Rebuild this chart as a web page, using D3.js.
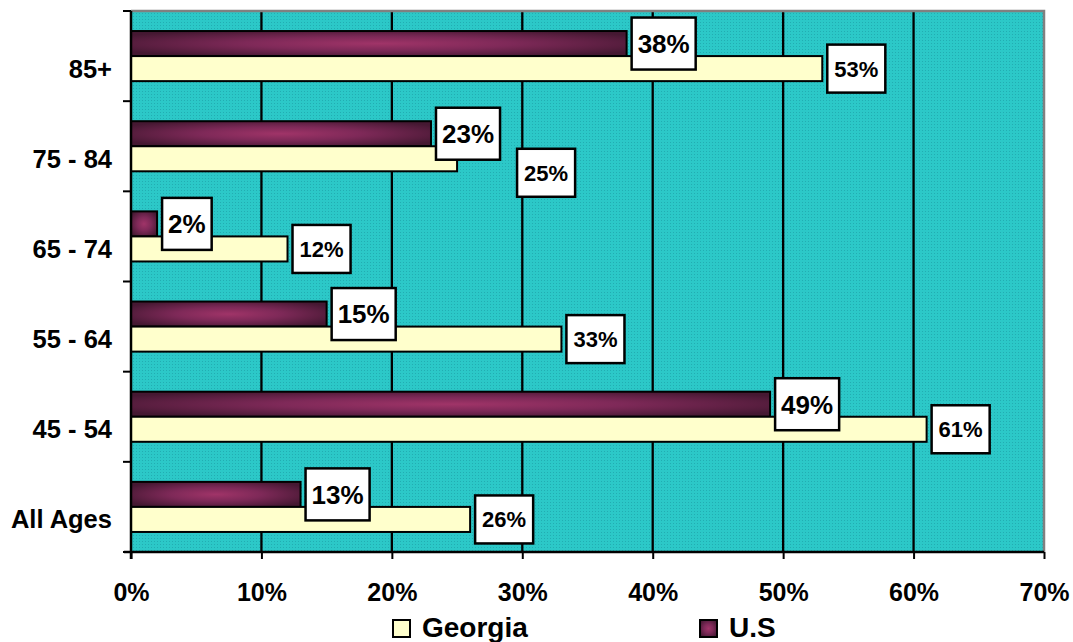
<!DOCTYPE html>
<html>
<head>
<meta charset="utf-8">
<script src="https://cdn.jsdelivr.net/npm/d3@7"></script>
<style>
  html, body { margin: 0; padding: 0; background: #fff; }
  svg { display: block; }
  text { font-family: "Liberation Sans", Arial, sans-serif; font-weight: bold; fill: #000; }
</style>
</head>
<body>
<svg id="chart" width="1073" height="642"></svg>
<script>
// Age groups, top to bottom
const categories = ["85+", "75 - 84", "65 - 74", "55 - 64", "45 - 54", "All Ages"];
// Share of each age group (percent)
const usValues      = [38, 23, 2, 15, 49, 13];
const georgiaValues = [53, 25, 12, 33, 61, 26];
const seriesNames = ["U.S", "Georgia"];
const xTicks = [0, 10, 20, 30, 40, 50, 60, 70];

const svg = d3.select("#chart");
const plot = { left: 131, right: 1044, top: 11, bottom: 552 };

const defs = svg.append("defs");
// dotted teal backdrop
const pat = defs.append("pattern").attr("id", "dots")
  .attr("width", 3).attr("height", 3).attr("patternUnits", "userSpaceOnUse");
pat.append("rect").attr("width", 3).attr("height", 3).attr("fill", "#2cc8c8");
pat.append("rect").attr("x", 1).attr("y", 1).attr("width", 1).attr("height", 1).attr("fill", "#22adb2");

// shaded plum fill for the U.S bars
const grad = defs.append("radialGradient").attr("id", "usFill")
  .attr("cx", 0.5).attr("cy", 0.5).attr("r", 0.6);
grad.append("stop").attr("offset", "0%").attr("stop-color", "#a03468");
grad.append("stop").attr("offset", "45%").attr("stop-color", "#7e2958");
grad.append("stop").attr("offset", "100%").attr("stop-color", "#451832");

const x = d3.scaleLinear().domain([0, 70]).range([plot.left, plot.right]);
const y = d3.scaleBand().domain(categories).range([plot.top, plot.bottom]);
const y1 = d3.scaleBand().domain(seriesNames).range([0, y.bandwidth()])
  .paddingInner(0).paddingOuter(0.8);

// plot background
svg.append("rect")
  .attr("x", plot.left).attr("y", plot.top)
  .attr("width", plot.right - plot.left).attr("height", plot.bottom - plot.top)
  .attr("fill", "url(#dots)");

// vertical gridlines
svg.append("g").selectAll("line")
  .data(xTicks.filter(t => t > 0 && t < 70))
  .join("line")
  .attr("x1", d => x(d)).attr("x2", d => x(d))
  .attr("y1", plot.top).attr("y2", plot.bottom)
  .attr("stroke", "#000").attr("stroke-width", 2.3);

// gray frame on top and right
svg.append("path")
  .attr("d", `M${plot.left},${plot.top} H${plot.right} V${plot.bottom}`)
  .attr("fill", "none").attr("stroke", "#808080").attr("stroke-width", 2.5);

const rows = categories.map((c, i) => ({ cat: c, us: usValues[i], ga: georgiaValues[i] }));

// bars
const bars = svg.append("g");
bars.selectAll("rect.us").data(rows).join("rect").attr("class", "us")
  .attr("x", x(0)).attr("y", d => y(d.cat) + y1("U.S"))
  .attr("width", d => x(d.us) - x(0)).attr("height", y1.bandwidth())
  .attr("fill", "url(#usFill)").attr("stroke", "#000").attr("stroke-width", 2);
bars.selectAll("rect.ga").data(rows).join("rect").attr("class", "ga")
  .attr("x", x(0)).attr("y", d => y(d.cat) + y1("Georgia"))
  .attr("width", d => x(d.ga) - x(0)).attr("height", y1.bandwidth())
  .attr("fill", "#ffffcc").attr("stroke", "#000").attr("stroke-width", 2);

// axes
const xAxis = d3.axisBottom(x).tickValues(xTicks).tickSize(7).tickFormat(d => d + "%");
const gx = svg.append("g").attr("transform", `translate(0,${plot.bottom})`).call(xAxis);
gx.select(".domain").attr("stroke", "#000").attr("stroke-width", 2.5)
  .attr("d", `M${plot.left - 7},0H${plot.right}`);
gx.selectAll(".tick line").attr("stroke", "#000").attr("stroke-width", 2);
gx.selectAll(".tick text").attr("y", 49).attr("dy", null)
  .style("font-size", "25px").style("font-family", '"Liberation Sans", Arial, sans-serif')
  .style("font-weight", "bold").attr("fill", "#000");

// left axis line with ticks at band edges
const gy = svg.append("g");
gy.append("line").attr("x1", plot.left).attr("x2", plot.left)
  .attr("y1", plot.top).attr("y2", plot.bottom + 7)
  .attr("stroke", "#000").attr("stroke-width", 2.5);
const edges = categories.map(c => y(c)).concat([plot.bottom]);
gy.selectAll("line.tk").data(edges).join("line").attr("class", "tk")
  .attr("x1", plot.left - 8).attr("x2", plot.left)
  .attr("y1", d => d).attr("y2", d => d)
  .attr("stroke", "#000").attr("stroke-width", 2);
gy.selectAll("text").data(categories).join("text")
  .attr("x", 112).attr("y", d => y(d) + y1("Georgia") + y1.bandwidth() / 2 + 9)
  .attr("text-anchor", "end").style("font-size", "25.5px")
  .text(d => d);

// value labels in white boxes
const labelNudge = { "75 - 84|Georgia": [55, 14] };
function drawLabel(g, cat, series, value, fontSize, padX, boxH) {
  const barMid = y(cat) + y1(series) + y1.bandwidth() / 2;
  const nudge = labelNudge[cat + "|" + series] || [0, 0];
  const lg = g.append("g").attr("transform", `translate(${x(value) + 5 + nudge[0]},${barMid + nudge[1]})`);
  const rect = lg.append("rect").attr("fill", "#fff").attr("stroke", "#000").attr("stroke-width", 2.5);
  const t = lg.append("text").attr("y", fontSize * 0.36).style("font-size", fontSize + "px").text(value + "%");
  const w = t.node().getComputedTextLength();
  t.attr("x", padX);
  rect.attr("x", 0).attr("y", -boxH / 2).attr("width", w + 2 * padX).attr("height", boxH);
}
const labels = svg.append("g");
rows.forEach(d => {
  drawLabel(labels, d.cat, "U.S", d.us, 26, 6, 52);
  drawLabel(labels, d.cat, "Georgia", d.ga, 22, 7, 48);
});

// legend
const legend = svg.append("g");
const legendItems = [
  { name: "Georgia", x: 393, fill: "#ffffcc" },
  { name: "U.S", x: 700, fill: "url(#usFill)" }
];
legendItems.forEach(it => {
  legend.append("rect").attr("x", it.x).attr("y", 620).attr("width", 17).attr("height", 17)
    .attr("fill", it.fill).attr("stroke", "#000").attr("stroke-width", 2);
  legend.append("text").attr("x", it.x + 29).attr("y", 637).style("font-size", "28px").text(it.name);
});
</script>
</body>
</html>
